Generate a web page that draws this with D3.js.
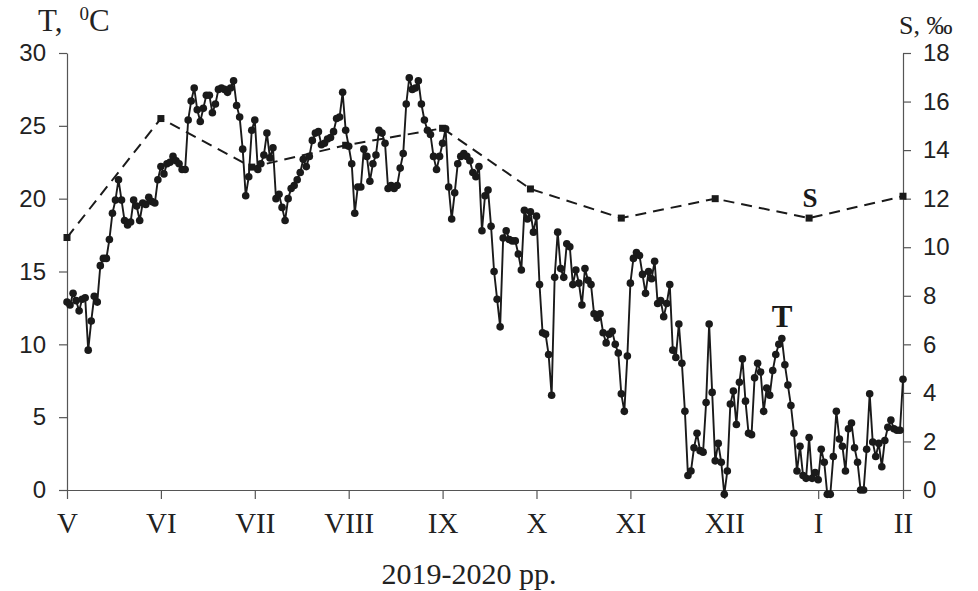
<!DOCTYPE html>
<html>
<head>
<meta charset="utf-8">
<script src="https://cdn.jsdelivr.net/npm/d3@7"></script>
<style>
  body { margin: 0; background: #fff; }
</style>
</head>
<body>
<svg id="chart" width="978" height="591"></svg>
<script>
// daily water temperature, from 1 May 2019 (one value per day)
const tempValues = [
  12.9, 12.7, 13.5, 13.0, 12.3, 13.1, 13.2, 9.6, 11.6, 13.3,
  12.9, 15.4, 15.9, 15.9, 17.2, 19.0, 19.9, 21.3, 19.9, 18.5,
  18.2, 18.4, 19.9, 19.5, 18.5, 19.7, 19.6, 20.1, 19.8, 19.7,
  21.3, 22.2, 21.7, 22.4, 22.5, 22.9, 22.6, 22.4, 22.0, 22.0,
  25.4, 26.7, 27.6, 26.1, 25.3, 26.2, 27.1, 27.1, 25.9, 26.5,
  27.5, 27.6, 27.5, 27.3, 27.6, 28.1, 26.4, 25.6, 23.4, 20.2,
  21.5, 24.7, 25.4, 22.0, 22.4, 23.0, 24.5, 22.8, 23.5, 20.0,
  20.3, 19.4, 18.5, 20.0, 20.7, 20.9, 21.3, 21.8, 22.7, 22.2,
  22.9, 24.0, 24.5, 24.6, 23.7, 23.8, 24.1, 24.2, 24.6, 25.5,
  25.6, 27.3, 24.7, 23.6, 22.4, 19.0, 20.8, 20.8, 23.4, 22.9,
  21.2, 22.4, 23.0, 24.7, 24.5, 23.8, 20.7, 20.9, 20.7, 20.9,
  22.1, 23.1, 26.5, 28.3, 27.5, 27.6, 28.1, 26.5, 25.4, 24.7,
  24.4, 22.9, 22.0, 22.9, 23.8, 24.8, 20.8, 18.6, 20.4, 22.4,
  22.9, 23.1, 22.9, 22.6, 21.8, 21.5, 22.2, 17.8, 20.2, 20.6,
  18.1, 15.0, 13.1, 11.2, 17.3, 17.8, 17.2, 17.1, 17.1, 16.2,
  15.1, 19.2, 18.6, 19.1, 17.7, 18.8, 14.1, 10.8, 10.7, 9.3,
  6.5, 14.6, 17.7, 15.2, 14.6, 16.9, 16.7, 14.1, 15.1, 14.2,
  12.7, 15.2, 14.4, 14.1, 12.1, 11.8, 12.1, 10.8, 10.1, 10.7,
  10.9, 10.0, 9.4, 6.6, 5.4, 9.2, 14.2, 15.9, 16.3, 16.1,
  14.8, 13.5, 15.0, 14.5, 15.7, 12.8, 13.0, 11.9, 12.8, 14.1,
  9.6, 9.1, 11.4, 8.7, 5.4, 1.0, 1.3, 2.9, 3.9, 2.7,
  2.6, 6.0, 11.4, 6.7, 2.0, 3.2, 1.9, -0.3, 1.3, 5.9,
  6.8, 4.5, 7.4, 9.0, 6.1, 3.9, 3.8, 7.7, 8.7, 8.1,
  5.4, 7.0, 6.5, 8.2, 9.3, 10.0, 10.4, 8.6, 7.2, 5.8,
  3.9, 1.3, 3.0, 1.0, 0.8, 3.6, 0.8, 1.2, 0.7, 2.8,
  1.9, -0.3, -0.3, 2.3, 5.4, 3.5, 3.0, 1.3, 4.2, 4.6,
  2.9, 1.9, 0.0, 0.0, 2.8, 6.6, 3.3, 2.3, 3.2, 1.6,
  3.4, 4.3, 4.8, 4.2, 4.1, 4.1, 7.6
];

// salinity samples (day number from 1 May, value in per mille)
const salDays = [0, 31, 61, 92, 124, 153, 183, 214, 245, 276];
const salValues = [10.4, 15.3, 13.3, 14.2, 14.9, 12.4, 11.2, 12.0, 11.2, 12.1];

const monthLabels = ['V', 'VI', 'VII', 'VIII', 'IX', 'X', 'XI', 'XII', 'I', 'II'];
const monthTickDays = [0, 31, 62, 93, 124, 155, 186, 217, 248, 276];

const tTicks = [0, 5, 10, 15, 20, 25, 30];
const sTicks = [0, 2, 4, 6, 8, 10, 12, 14, 16, 18];

const svg = d3.select('#chart');
const serif = '"Liberation Serif", "Times New Roman", serif';
const sans = '"Liberation Sans", Arial, sans-serif';

// plot box ('top' is taken by window.top, so prefixed names)
const plotLeft = 67, plotRight = 903, plotTop = 53, plotBottom = 490;

const x = d3.scaleLinear().domain([0, tempValues.length - 1]).range([plotLeft, plotRight]);
const yT = d3.scaleLinear().domain([0, 30]).range([plotBottom, plotTop]);
const yS = d3.scaleLinear().domain([0, 18]).range([plotBottom, plotTop]);

svg.append('rect').attr('width', 978).attr('height', 591).attr('fill', '#fff');

// axes
const axisLeft = svg.append('g')
    .attr('transform', `translate(${plotLeft},0)`)
    .call(d3.axisLeft(yT).tickValues(tTicks).tickSize(8).tickSizeOuter(0).tickPadding(13));

const axisRight = svg.append('g')
    .attr('transform', `translate(${plotRight},0)`)
    .call(d3.axisRight(yS).tickValues(sTicks).tickSize(8).tickSizeOuter(0).tickPadding(12));

const axisX = svg.append('g')
    .attr('transform', `translate(0,${plotBottom})`)
    .call(d3.axisBottom(x).tickValues(monthTickDays)
        .tickFormat((d, i) => monthLabels[i])
        .tickSize(9).tickSizeOuter(0).tickPadding(13));

[axisLeft, axisRight, axisX].forEach(g => {
    g.selectAll('path.domain').attr('stroke', '#555').attr('stroke-width', 1.2);
    g.selectAll('.tick line').attr('stroke', '#555').attr('stroke-width', 1.2);
});
[axisLeft, axisRight].forEach(g => {
    g.selectAll('.tick text').attr('font-family', sans).attr('font-size', 24).attr('fill', '#222');
});
axisX.selectAll('.tick text').attr('font-family', serif).attr('font-size', 29).attr('fill', '#222');

// salinity (dashed)
const salData = salDays.map((d, i) => ({day: d, v: salValues[i]}));
svg.append('path')
    .datum(salData)
    .attr('fill', 'none')
    .attr('stroke', '#1a1a1a')
    .attr('stroke-width', 2)
    .attr('stroke-dasharray', '11,7')
    .attr('d', d3.line().x(d => x(d.day)).y(d => yS(d.v)));

svg.selectAll('rect.sal')
    .data(salData)
    .enter()
    .append('rect')
    .attr('class', 'sal')
    .attr('x', d => x(d.day) - 3.5)
    .attr('y', d => yS(d.v) - 3.5)
    .attr('width', 7)
    .attr('height', 7)
    .attr('fill', '#1a1a1a');

// temperature (solid with markers)
svg.append('path')
    .datum(tempValues)
    .attr('fill', 'none')
    .attr('stroke', '#1a1a1a')
    .attr('stroke-width', 1.9)
    .attr('d', d3.line().x((d, i) => x(i)).y(d => yT(d)));

svg.selectAll('circle.t')
    .data(tempValues)
    .enter()
    .append('circle')
    .attr('class', 't')
    .attr('cx', (d, i) => x(i))
    .attr('cy', d => yT(d))
    .attr('r', 3.8)
    .attr('fill', '#1a1a1a');

// titles
const tTitle = svg.append('text')
    .attr('x', 38).attr('y', 31)
    .attr('font-family', serif).attr('font-size', 31).attr('fill', '#222');
tTitle.append('tspan').text('T,');
tTitle.append('tspan').attr('font-size', 19).attr('dx', 17).attr('dy', -11).text('0');
tTitle.append('tspan').attr('dy', 11).text('C');

svg.append('text')
    .attr('x', 899).attr('y', 34)
    .attr('font-family', serif).attr('font-size', 26).attr('fill', '#222')
    .text('S, ‰');

// series markers in the plot
svg.append('text')
    .attr('x', 782).attr('y', 327).attr('text-anchor', 'middle')
    .attr('font-family', serif).attr('font-size', 31).attr('font-weight', 'bold').attr('fill', '#1a1a1a')
    .text('T');

svg.append('text')
    .attr('x', 810).attr('y', 207).attr('text-anchor', 'middle')
    .attr('font-family', serif).attr('font-size', 27).attr('font-weight', 'bold').attr('fill', '#1a1a1a')
    .text('S');

svg.append('text')
    .attr('x', 469).attr('y', 584).attr('text-anchor', 'middle')
    .attr('font-family', serif).attr('font-size', 30).attr('fill', '#222')
    .text('2019-2020 pp.');
</script>
</body>
</html>
